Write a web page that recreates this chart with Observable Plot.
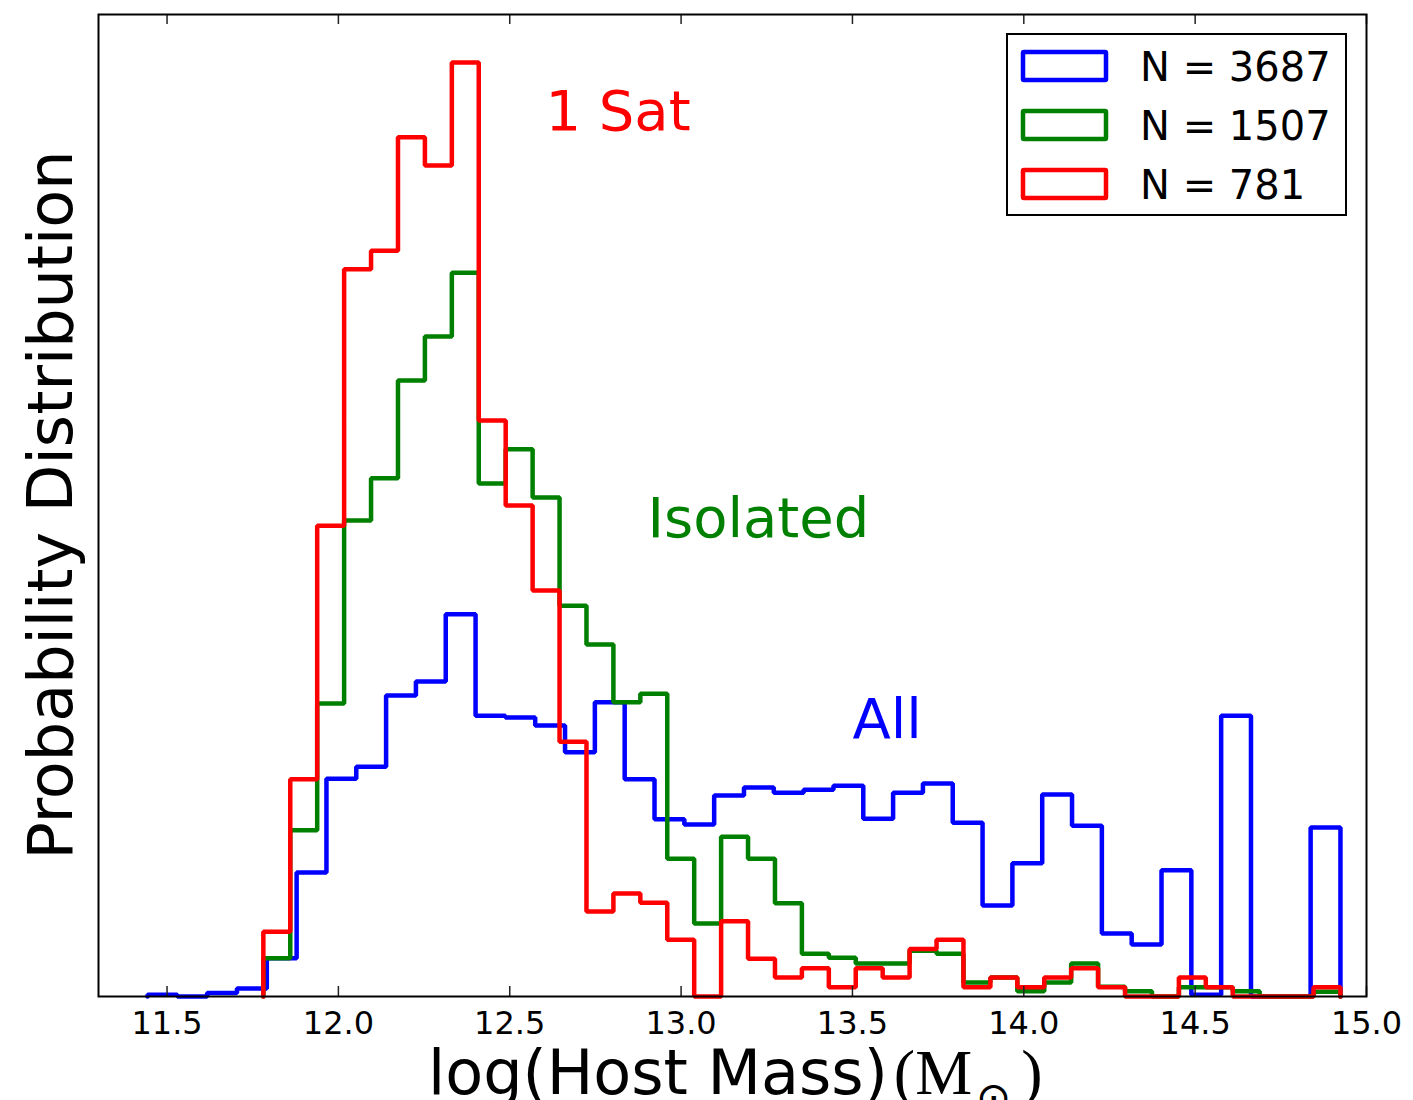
<!DOCTYPE html>
<html>
<head>
<meta charset="utf-8">
<script src="https://cdn.jsdelivr.net/npm/d3@7"></script>
<script src="https://cdn.jsdelivr.net/npm/@observablehq/plot@0.6"></script>
<style>
  html, body { margin: 0; padding: 0; background: #fff; }
  svg { display: block; }
</style>
</head>
<body>
<script>
// ---------- data ----------
const seriesNames  = ["All", "Isolated", "1 Sat"];
const seriesColors = ["#0000ff", "#008000", "#ff0000"];
const seriesCounts = [3687, 1507, 781];

// histogram ranges (40 bins each)
const allRange      = [11.443, 14.924];
const isolatedRange = [11.781, 14.924];
const oneSatRange   = [11.781, 14.924];

// probability density per bin
const allDensity = [0.003, 0.000, 0.006, 0.014, 0.066, 0.214, 0.376, 0.397, 0.520, 0.544,
                    0.660, 0.485, 0.482, 0.468, 0.422, 0.508, 0.375, 0.306, 0.297, 0.347,
                    0.361, 0.352, 0.357, 0.364, 0.307, 0.352, 0.368, 0.300, 0.157, 0.230,
                    0.349, 0.295, 0.109, 0.090, 0.218, 0.003, 0.485, 0.000, 0.000, 0.292];
const isolatedDensity = [0.066, 0.287, 0.506, 0.822, 0.895, 1.064, 1.140, 1.250, 0.886, 0.945,
                         0.862, 0.675, 0.608, 0.508, 0.523, 0.238, 0.126, 0.276, 0.238, 0.161,
                         0.074, 0.067, 0.057, 0.057, 0.079, 0.074, 0.024, 0.033, 0.009, 0.024,
                         0.057, 0.017, 0.009, 0.000, 0.016, 0.016, 0.009, 0.000, 0.000, 0.008];
const oneSatDensity = [0.112, 0.375, 0.813, 1.256, 1.288, 1.484, 1.435, 1.613, 0.995, 0.848,
                       0.701, 0.440, 0.147, 0.178, 0.162, 0.098, 0.000, 0.130, 0.065, 0.033,
                       0.049, 0.016, 0.049, 0.033, 0.082, 0.098, 0.016, 0.033, 0.016, 0.033,
                       0.049, 0.016, 0.000, 0.000, 0.033, 0.016, 0.000, 0.000, 0.000, 0.016];

const xTicks = [11.5, 12.0, 12.5, 13.0, 13.5, 14.0, 14.5, 15.0];
const xDomain = [11.3, 15.0];
const yDomain = [0, 1.696];

// annotations (data coordinates)
const annotText  = ["1 Sat", "Isolated", "All"];
const annotX     = [12.604, 12.902, 13.500];
const annotY     = [1.496, 0.793, 0.447];
const annotColor = ["#ff0000", "#008000", "#0000ff"];

// ---------- build step outlines ----------
function stepOutline(range, values) {
  const n = values.length;
  const w = (range[1] - range[0]) / n;
  const pts = [{x: range[0], y: 0}];
  values.forEach((v, i) => pts.push({x: range[0] + i * w, y: v}));
  pts.push({x: range[1], y: values[n - 1]});
  pts.push({x: range[1], y: 0});
  return pts;
}
const outlines = [
  stepOutline(allRange, allDensity),
  stepOutline(isolatedRange, isolatedDensity),
  stepOutline(oneSatRange, oneSatDensity)
];
const annots = annotText.map((t, i) => ({text: t, x: annotX[i], y: annotY[i], color: annotColor[i]}));

const FONT = "DejaVu Sans, sans-serif";
const W = 1413, H = 1100;
const mL = 98, mR = 47, mT = 14, mB = 104;
const innerH = H - mT - mB;

const svg = Plot.plot({
  width: W, height: H,
  marginLeft: mL, marginRight: mR, marginTop: mT, marginBottom: mB,
  style: {fontFamily: FONT, fontSize: "32px", color: "black", background: "white"},
  x: {domain: xDomain, axis: null},
  y: {domain: yDomain, axis: null},
  marks: [
    ...outlines.map((d, i) => Plot.line(d, {
      x: "x", y: "y", curve: "step-after",
      stroke: seriesColors[i], strokeWidth: 4.5, strokeLinejoin: "miter"
    })),
    Plot.text(annots, {
      x: "x", y: "y", text: "text", fill: "color",
      fontSize: 56, fontFamily: FONT, textAnchor: "start", lineAnchor: "bottom"
    }),
    Plot.tickX(xTicks, {x: d => d, insetTop: innerH - 10, stroke: "#222", strokeWidth: 1.5}),
    Plot.tickX(xTicks, {x: d => d, insetBottom: innerH - 10, stroke: "#222", strokeWidth: 1.5}),
    Plot.axisX(xTicks, {
      tickSize: 0, tickPadding: 15, fontSize: 32, fontFamily: FONT,
      tickFormat: d => d.toFixed(1), label: null
    }),
    Plot.frame({stroke: "black", strokeWidth: 2})
  ]
});
document.body.append(svg);

const s = d3.select(svg);

// ---------- legend ----------
const lg = s.append("g").attr("text-anchor", "start");
lg.append("rect").attr("x", 1007).attr("y", 34).attr("width", 339).attr("height", 181)
  .attr("fill", "white").attr("stroke", "black").attr("stroke-width", 2);
seriesNames.forEach((name, i) => {
  const cy = 66 + i * 59;
  lg.append("rect").attr("x", 1023).attr("y", cy - 14).attr("width", 83).attr("height", 28)
    .attr("fill", "none").attr("stroke", seriesColors[i]).attr("stroke-width", 4.5)
    .attr("rx", 1);
  lg.append("text").attr("x", 1140).attr("y", cy + 15).attr("text-anchor", "start")
    .attr("font-family", FONT).attr("font-size", 40).attr("fill", "black")
    .text(`N = ${seriesCounts[i]}`);
});

// ---------- axis labels ----------
const xl = s.append("text").attr("x", 428).attr("y", 1094).attr("text-anchor", "start")
  .attr("font-family", FONT).attr("font-size", 62).attr("fill", "black");
xl.append("tspan").text("log(Host Mass)");
xl.append("tspan").attr("font-family", "Liberation Serif, DejaVu Serif, serif").attr("font-size", 64).attr("dx", 6).text("(M");
xl.append("tspan").attr("font-family", "DejaVu Sans, sans-serif").attr("font-size", 42).attr("dy", 18).attr("dx", 4).text("\u2299");
xl.append("tspan").attr("font-family", "Liberation Serif, DejaVu Serif, serif").attr("font-size", 64).attr("dy", -18).attr("dx", 10).text(")");

s.append("text")
  .attr("transform", `translate(72,${mT + innerH / 2}) rotate(-90)`)
  .attr("text-anchor", "middle")
  .attr("font-family", FONT).attr("font-size", 62).attr("fill", "black")
  .text("Probability Distribution");
</script>
</body>
</html>
